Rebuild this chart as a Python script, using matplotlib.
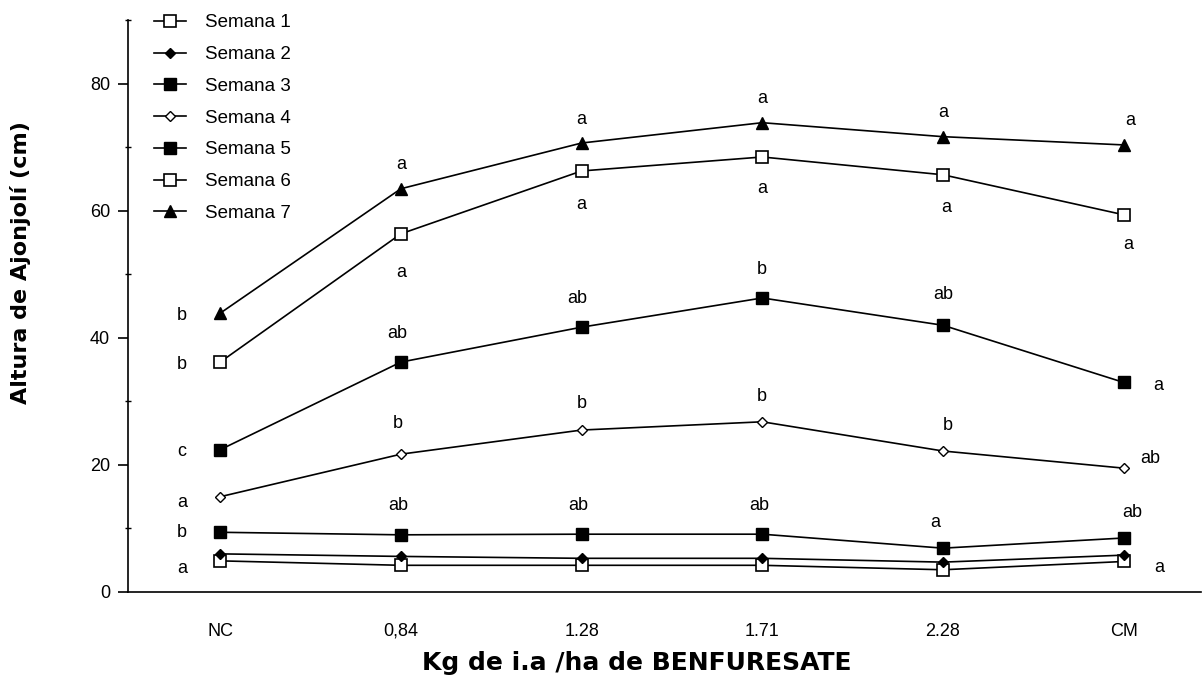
import numpy as np
import matplotlib.pyplot as plt
from matplotlib.ticker import MultipleLocator

# datos
dosis = ['NC', '0,84', '1.28', '1.71', '2.28', 'CM']
semana1 = [4.9, 4.2, 4.2, 4.2, 3.5, 4.8]
semana2 = [6.0, 5.6, 5.3, 5.3, 4.7, 5.8]
semana3 = [22.4, 36.2, 41.7, 46.3, 42.0, 33.0]
semana4 = [15.0, 21.7, 25.5, 26.8, 22.2, 19.5]
semana5 = [9.4, 9.0, 9.1, 9.1, 6.9, 8.5]
semana6 = [36.2, 56.4, 66.3, 68.5, 65.7, 59.4]
semana7 = [43.9, 63.5, 70.7, 73.9, 71.7, 70.4]

letras7 = ['b', 'a', 'a', 'a', 'a', 'a']
letras6 = ['b', 'a', 'a', 'a', 'a', 'a']
letras3 = ['c', 'ab', 'ab', 'b', 'ab', 'a']
letras4 = ['a', 'b', 'b', 'b', 'b', 'ab']
letras5 = ['b', 'ab', 'ab', 'ab', 'a', 'ab']
letras1 = ['a', '', '', '', '', 'a']

plt.rcParams['font.family'] = ['Liberation Sans', 'DejaVu Sans']

fig = plt.figure(figsize=(12.02, 6.82), dpi=100)
ax = fig.add_axes([0.1065, 0.132, 0.893, 0.838])

x = np.arange(len(dosis))
lw = 1.2
ax.plot(x, semana1, '-s', color='black', lw=lw, ms=8, mfc='white', mec='black', mew=1.2, label='Semana 1', zorder=3)
ax.plot(x, semana2, '-D', color='black', lw=lw, ms=5, mfc='black', label='Semana 2', zorder=3)
ax.plot(x, semana3, '-s', color='black', lw=lw, ms=9, mfc='black', label='Semana 3', zorder=3)
ax.plot(x, semana4, '-D', color='black', lw=lw, ms=5.5, mfc='white', mec='black', mew=1.0, label='Semana 4', zorder=3)
ax.plot(x, semana5, '-s', color='black', lw=lw, ms=9, mfc='black', label='Semana 5', zorder=3)
ax.plot(x, semana6, '-s', color='black', lw=lw, ms=9, mfc='white', mec='black', mew=1.2, label='Semana 6', zorder=3)
ax.plot(x, semana7, '-^', color='black', lw=lw, ms=9, mfc='black', label='Semana 7', zorder=3)

# desplazamientos de las letras (pixeles)
izq = (-38, -2)
arriba = (0, 24)
abajo = (0, -34)
off7 = [izq, arriba, arriba, arriba, arriba, (7, 24)]
off6 = [izq, (0, -39), abajo, (0, -32), (3, -33), (5, -30)]
off3 = [izq, (-4, 29), (-4, 29), (0, 28), (0, 31), (35, -3)]
off4 = [(-38, -6), (-3, 31), (0, 27), (0, 25), (5, 26), (27, 10)]
off5 = [(-38, 0), (-3, 29), (-3, 29), (-3, 29), (-8, 26), (9, 25)]
off1 = [(-38, -8), None, None, None, None, (36, -6)]

for vals, letras, offs in [(semana7, letras7, off7), (semana6, letras6, off6),
                           (semana3, letras3, off3), (semana4, letras4, off4),
                           (semana5, letras5, off5), (semana1, letras1, off1)]:
    for i, (v, t, o) in enumerate(zip(vals, letras, offs)):
        if t:
            ax.annotate(t, xy=(i, v), xytext=o, textcoords='offset pixels',
                        ha='center', va='center', fontsize=13)

ax.set_xlim(-0.51, 5.43)
ax.set_ylim(0, 90)
ax.set_xticks(x)
ax.set_xticklabels(dosis, fontsize=13)
ax.set_yticks([0, 20, 40, 60, 80])
ax.yaxis.set_minor_locator(MultipleLocator(10))
ax.tick_params(axis='x', length=0, pad=22)
ax.tick_params(axis='y', which='major', direction='out', length=7, width=1.2, labelsize=13, pad=6)
ax.tick_params(axis='y', which='minor', direction='inout', length=5, width=1)
ax.spines['top'].set_visible(False)
ax.spines['right'].set_visible(False)
ax.spines['left'].set_linewidth(1.2)
ax.spines['bottom'].set_linewidth(1.2)

ax.set_xlabel('Kg de i.a /ha de BENFURESATE', fontsize=18, fontweight='bold',
              family='DejaVu Sans')
ax.xaxis.set_label_coords(0.474, -0.104)
ax.set_ylabel('Altura de Ajonjolí (cm)', fontsize=16, fontweight='bold',
              family='DejaVu Sans')
ax.yaxis.set_label_coords(-0.09, 0.577)

fig.legend(loc='upper left', bbox_to_anchor=(0.122, 0.99), frameon=False,
           fontsize=13.5, handlelength=1.7, labelspacing=0.78, handletextpad=1.0,
           borderaxespad=0)

fig.savefig('out.png', dpi=100)
